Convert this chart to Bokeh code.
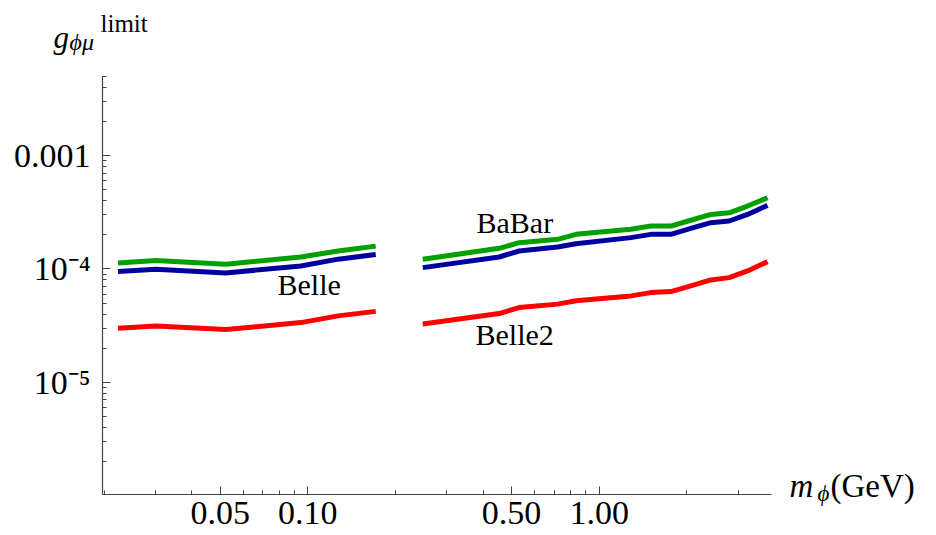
import math
from bokeh.plotting import figure
from bokeh.models import Range1d, FixedTicker, LogTicker, CustomJSTickFormatter, Label
from bokeh.embed import file_html
from bokeh.resources import INLINE

# ---------------- data ----------------
# segment 1 (below the gap)
m_low = [0.0223, 0.0301, 0.0523, 0.0946, 0.127, 0.171]
babar_low = [1.13e-4, 1.19e-4, 1.10e-4, 1.275e-4, 1.44e-4, 1.59e-4]
belle_low = [9.47e-5, 9.94e-5, 9.22e-5, 1.063e-4, 1.22e-4, 1.34e-4]
belle2_low = [3.00e-5, 3.13e-5, 2.92e-5, 3.36e-5, 3.85e-5, 4.22e-5]
# segment 2 (above the gap)
m_high = [0.248, 0.454, 0.531, 0.720, 0.832, 1.285, 1.505, 1.763, 2.064, 2.418, 2.796, 3.232, 3.785]
babar_high = [1.218e-4, 1.52e-4, 1.705e-4, 1.827e-4, 2.02e-4, 2.24e-4, 2.39e-4, 2.39e-4,
              2.69e-4, 3.03e-4, 3.13e-4, 3.59e-4, 4.25e-4]
belle_high = [1.027e-4, 1.275e-4, 1.44e-4, 1.56e-4, 1.67e-4, 1.89e-4, 2.02e-4, 2.02e-4,
              2.28e-4, 2.56e-4, 2.65e-4, 3.03e-4, 3.64e-4]
belle2_high = [3.26e-5, 4.04e-5, 4.56e-5, 4.89e-5, 5.23e-5, 5.78e-5, 6.18e-5, 6.31e-5,
               7.08e-5, 8.00e-5, 8.38e-5, 9.60e-5, 1.16e-4]

x_tick_values = [0.05, 0.1, 0.5, 1.0]
x_tick_labels = ["0.05", "0.10", "0.50", "1.00"]
x_minor_values = [0.02, 0.03, 0.04, 0.06, 0.07, 0.08, 0.09, 0.2, 0.3, 0.4,
                  0.6, 0.7, 0.8, 0.9, 2.0, 3.0]
y_tick_values = [1e-5, 1e-4, 1e-3]
y_tick_labels = ["10\u207b\u2075", "10\u207b\u2074", "0.001"]

# axis extents (data)
X_MIN, X_MAX = 0.01973, 3.906
Y_MIN, Y_MAX = 1.02e-6, 5.0e-3

# ---------------- layout (page pixels) ----------------
PAGE_W, PAGE_H = 936, 535
AX_L, AX_R, AX_T, AX_B = 102, 771, 76, 494   # where the axes sit on the page
FONT = "Liberation Serif"
AX = "#444444"


def px2x(px):
    lo, hi = math.log10(X_MIN), math.log10(X_MAX)
    return 10 ** (lo + (px - AX_L) / (AX_R - AX_L) * (hi - lo))


def py2y(py):
    lo, hi = math.log10(Y_MIN), math.log10(Y_MAX)
    return 10 ** (hi - (py - AX_T) / (AX_B - AX_T) * (hi - lo))


p = figure(width=PAGE_W, height=PAGE_H, x_axis_type="log", y_axis_type="log",
           x_range=Range1d(px2x(0), px2x(PAGE_W)), y_range=Range1d(py2y(PAGE_H), py2y(0)),
           output_backend="svg", toolbar_location=None,
           min_border_left=0, min_border_right=0, min_border_top=0, min_border_bottom=0)
p.xgrid.visible = False
p.ygrid.visible = False
p.outline_line_color = None
p.background_fill_color = "white"
p.border_fill_color = "white"

GREEN = "#00a000"
BLUE = "#0000a0"
RED = "#ff0000"
LW = 5

for xs, ys, col in [(m_low, babar_low, GREEN), (m_low, belle_low, BLUE), (m_low, belle2_low, RED),
                    (m_high, babar_high, GREEN), (m_high, belle_high, BLUE), (m_high, belle2_high, RED)]:
    p.line(xs, ys, line_color=col, line_width=LW, line_join="round")

fmt_code = """
for (let i = 0; i < vals.length; i++) {
  if (Math.abs(Math.log10(tick / vals[i])) < 1e-6) return labs[i];
}
return "";
"""

xa = p.xaxis[0]
xa.ticker = FixedTicker(ticks=x_tick_values, minor_ticks=x_minor_values)
xa.formatter = CustomJSTickFormatter(args=dict(vals=x_tick_values, labs=x_tick_labels), code=fmt_code)
xa.fixed_location = Y_MIN
xa.bounds = (X_MIN, X_MAX)
ya = p.yaxis[0]
ya.ticker = LogTicker(num_minor_ticks=10)
ya.formatter = CustomJSTickFormatter(args=dict(vals=y_tick_values, labs=y_tick_labels), code=fmt_code)
ya.fixed_location = X_MIN
ya.bounds = (Y_MIN, Y_MAX)

for ax in (xa, ya):
    ax.axis_line_color = AX
    ax.axis_line_width = 1.2
    ax.major_tick_line_color = AX
    ax.minor_tick_line_color = AX
    ax.major_tick_in = 8
    ax.major_tick_out = 0
    ax.minor_tick_in = 4
    ax.minor_tick_out = 0
    ax.major_label_text_font = FONT
    ax.major_label_text_font_size = "34px"
    ax.major_label_text_color = "black"
xa.major_label_standoff = 7
ya.major_label_standoff = 12

BASE_SHIFT = 0.3   # baseline correction, in em


def add_text(txt, px, py, size, style="normal"):
    p.add_layout(Label(x=px2x(px), y=py2y(py - BASE_SHIFT * size), text=txt, text_font=FONT,
                       text_font_size=f"{size}px", text_font_style=style,
                       text_align="left", text_baseline="alphabetic", text_color="black"))


# curve labels
add_text("BaBar", 476, 231, 30)
add_text("Belle", 277, 293, 30)
add_text("Belle2", 475, 343, 30)
# y-axis label  g_{phi mu}^{limit}
add_text("g", 53, 46, 31, "italic")
add_text("\u03d5\u03bc", 69, 49, 24, "italic")
add_text("limit", 100, 30, 25)
# x-axis label  m_phi (GeV)
add_text("m", 789, 495, 33, "italic")
add_text("\u03d5", 817, 500, 23, "italic")
add_text("(GeV)", 830, 495, 33)

open("out.html", "w").write(file_html(p, INLINE))
